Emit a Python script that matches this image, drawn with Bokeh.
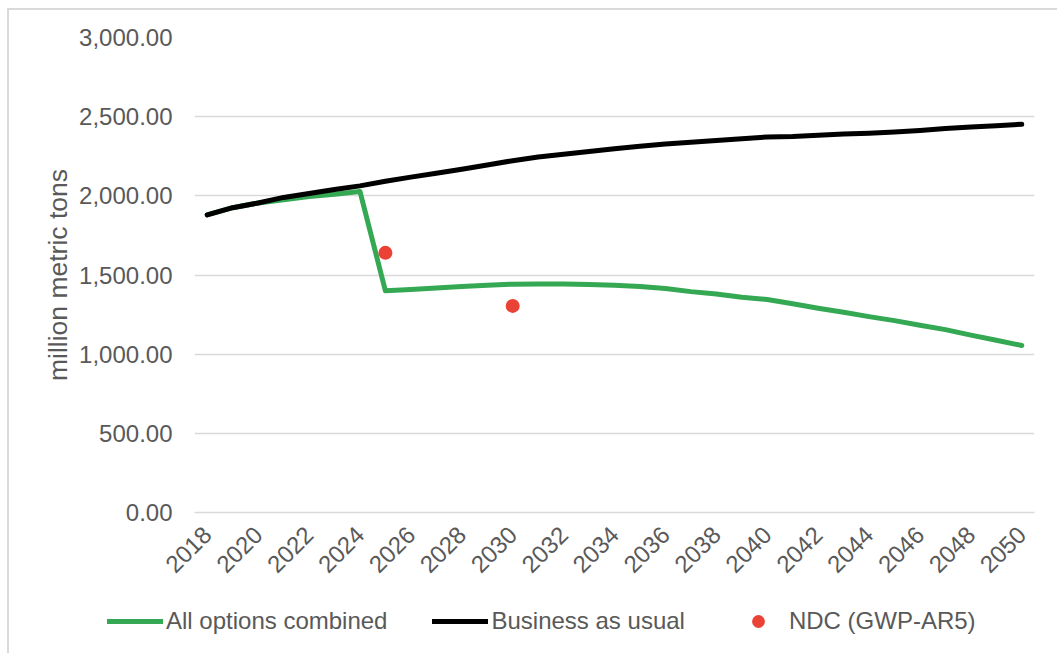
from math import pi

from bokeh.plotting import figure
from bokeh.layouts import column, row
from bokeh.models import (Range1d, FixedTicker, NumeralTickFormatter, Legend,
                          LegendItem)
from bokeh.embed import file_html
from bokeh.resources import INLINE

# Emissions pathways, million metric tons
years = [2018, 2019, 2020, 2021, 2022, 2023, 2024, 2025, 2026, 2027, 2028,
         2029, 2030, 2031, 2032, 2033, 2034, 2035, 2036, 2037, 2038, 2039,
         2040, 2041, 2042, 2043, 2044, 2045, 2046, 2047, 2048, 2049, 2050]

all_options = [1880, 1925, 1955, 1975, 1995, 2010, 2028, 1400, 1408, 1418,
               1428, 1436, 1442, 1443, 1443, 1440, 1435, 1428, 1415, 1395,
               1380, 1360, 1345, 1318, 1290, 1265, 1237, 1212, 1183, 1155,
               1120, 1088, 1055]

business_as_usual = [1880, 1925, 1955, 1990, 2015, 2040, 2063, 2092, 2118,
                     2143, 2168, 2195, 2222, 2245, 2262, 2280, 2298, 2313,
                     2328, 2338, 2350, 2360, 2372, 2375, 2382, 2390, 2395,
                     2403, 2413, 2425, 2435, 2443, 2452]

ndc_years = [2025, 2030]
ndc_values = [1640, 1305]

series_names = ["All options combined", "Business as usual", "NDC (GWP-AR5)"]

year_ticks = [2018, 2020, 2022, 2024, 2026, 2028, 2030, 2032, 2034, 2036,
              2038, 2040, 2042, 2044, 2046, 2048, 2050]
value_ticks = [0, 500, 1000, 1500, 2000, 2500, 3000]

FONT = "Liberation Sans"
TEXT = "#595959"
GRID = "#d9d9d9"
GREEN = "#34a853"
RED = "#ea4335"

W, H_CHART, H_LEGEND = 1057, 605, 48


def draw_series(fig):
    """Draw the three series on a figure and return their renderers."""
    g = fig.line(years, all_options, line_color=GREEN, line_width=5,
                 line_cap="round", line_join="round")
    b = fig.line(years, business_as_usual, line_color="black", line_width=5,
                 line_cap="round", line_join="round")
    r = fig.scatter(ndc_years, ndc_values, size=14, fill_color=RED,
                    line_color=None)
    return [g, b, r]


# ---- main chart ----
p = figure(width=W, height=H_CHART, output_backend="svg", toolbar_location=None,
           x_range=Range1d(years[0] - 0.5, years[-1] + 0.5),
           y_range=Range1d(0, 3000),
           min_border_left=194, min_border_right=23,
           min_border_top=37, min_border_bottom=H_CHART - 512)

p.outline_line_color = None
p.background_fill_color = "white"
p.border_fill_color = None

p.xgrid.grid_line_color = None
p.ygrid.grid_line_color = GRID
p.ygrid.grid_line_width = 1.5
p.ygrid.ticker = FixedTicker(ticks=value_ticks)

p.yaxis.ticker = FixedTicker(ticks=value_ticks)
p.yaxis.formatter = NumeralTickFormatter(format="0,0.00")
p.yaxis.axis_line_color = None
p.yaxis.major_tick_line_color = None
p.yaxis.minor_tick_line_color = None
p.yaxis.major_label_text_font = FONT
p.yaxis.major_label_text_font_size = "24px"
p.yaxis.major_label_text_color = TEXT
p.yaxis.major_label_standoff = 16
p.yaxis.axis_label = "million metric tons"
p.yaxis.axis_label_text_font = FONT
p.yaxis.axis_label_text_font_size = "26.5px"
p.yaxis.axis_label_text_font_style = "normal"
p.yaxis.axis_label_text_color = TEXT
p.yaxis.axis_label_standoff = 3

p.xaxis.ticker = FixedTicker(ticks=year_ticks)
p.xaxis.axis_line_color = GRID
p.xaxis.axis_line_width = 1.5
p.xaxis.major_tick_line_color = None
p.xaxis.minor_tick_line_color = None
p.xaxis.major_label_orientation = pi / 4
p.xaxis.major_label_text_font = FONT
p.xaxis.major_label_text_font_size = "24px"
p.xaxis.major_label_text_color = TEXT
p.xaxis.major_label_standoff = 12

draw_series(p)

# ---- legend strip: same series, kept out of view, only the legend shows ----
leg = figure(width=W, height=H_LEGEND, output_backend="svg",
             toolbar_location=None, x_axis_location=None, y_axis_location=None,
             x_range=Range1d(0, 1), y_range=Range1d(0, 1),
             min_border_left=0, min_border_right=0,
             min_border_top=0, min_border_bottom=0)
leg.grid.visible = False
leg.outline_line_color = None
leg.background_fill_color = None
leg.border_fill_color = None

legend_renderers = draw_series(leg)
legend = Legend(items=[LegendItem(label=name, renderers=[r])
                       for name, r in zip(series_names, legend_renderers)],
                orientation="horizontal", location=(107, H_LEGEND - 32))
legend.glyph_width = 56
legend.glyph_height = 32
legend.label_standoff = 3
legend.spacing = 45
legend.padding = 0
legend.margin = 0
legend.border_line_color = None
legend.background_fill_color = None
legend.label_text_font = FONT
legend.label_text_font_size = "24px"
legend.label_text_color = TEXT
leg.add_layout(legend, "center")

# light chart-area border behind the transparent canvases
layout = column(p, row(leg, spacing=0), spacing=0, styles={
    "background-color": "white",
    "background-image": ("linear-gradient(#d9d9d9, #d9d9d9), "
                         "linear-gradient(#d9d9d9, #d9d9d9)"),
    "background-size": "1100px 2px, 2px 700px",
    "background-position": "7px 8px, 7px 8px",
    "background-repeat": "no-repeat",
})

open("out.html", "w").write(file_html(layout, INLINE))
